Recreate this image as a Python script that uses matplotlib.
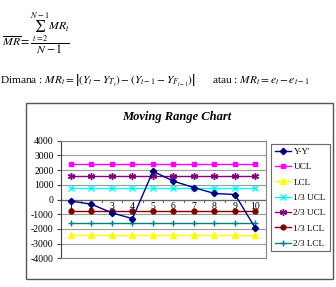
import matplotlib
matplotlib.use("Agg")
import matplotlib.pyplot as plt
from matplotlib.patches import Rectangle

plt.rcParams['font.family'] = ['Liberation Serif', 'DejaVu Serif']
plt.rcParams['mathtext.fontset'] = 'stix'

categories = [1, 2, 3, 4, 5, 6, 7, 8, 9, 10]
y_diff = [-110, -320, -910, -1300, 1920, 1250, 810, 410, 340, -1960]
ucl = [2430] * 10
lcl = [-2430] * 10
ucl_1_3 = [810] * 10
ucl_2_3 = [1620] * 10
lcl_1_3 = [-810] * 10
lcl_2_3 = [-1620] * 10
y_ticks = [-4000, -3000, -2000, -1000, 0, 1000, 2000, 3000, 4000]

W, H = 336, 287
fig = plt.figure(figsize=(W / 100, H / 100), dpi=100)

# Formula text
fig.text(2 / W, 1 - 33 / H,
         r"$\overline{MR} = \dfrac{\sum_{t=2}^{N-1} MR_t}{N-1}$",
         fontsize=8.5, va='center', ha='left')
fig.text(0 / W, 1 - 80 / H,
         r"Dimana : $MR_t = \left|\left(Y_t - Y_{T_t}\right) - \left(Y_{t-1} - Y_{F_{t-1}}\right)\right|$"
         r"      atau : $MR_t = e_t - e_{t-1}$",
         fontsize=8.2, va='center', ha='left')

# Outer chart border
fig.patches.append(Rectangle((26 / W, 1 - 279 / H), (333 - 26) / W, (279 - 103) / H,
                             transform=fig.transFigure, fill=False,
                             edgecolor='#555555', linewidth=1.0))

ax = fig.add_axes([60.7 / W, 1 - 258.3 / H, (265.7 - 60.7) / W, (258.3 - 140.7) / H])

series = [
    ("Y-Y'", y_diff, '#000080', 'D', 3.2, 10),
    ("UCL", ucl, '#FF00FF', 's', 3.5, 5),
    ("LCL", lcl, '#FFFF00', '^', 4, 5),
    ("1/3 UCL", ucl_1_3, '#00FFFF', 'x', 4, 5),
    ("2/3 UCL", ucl_2_3, '#800080', (6, 2, 0), 5, 5),
    ("1/3 LCL", lcl_1_3, '#800000', 'o', 3.5, 5),
    ("2/3 LCL", lcl_2_3, '#008080', '+', 5, 5),
]
for label, vals, col, mk, ms, z in series:
    ax.plot(categories, vals, color=col, marker=mk, markersize=ms, linewidth=1.0,
            markeredgecolor=col, markerfacecolor=col, label=label, zorder=z,
            markeredgewidth=1.0)

ax.set_xlim(0.5, 10.5)
ax.set_ylim(-4000, 4000)
ax.set_yticks(y_ticks)
ax.set_yticklabels([str(v) for v in y_ticks], fontsize=7)
ax.yaxis.grid(True, color='#999999', linewidth=0.8)
ax.set_axisbelow(True)
ax.tick_params(axis='y', length=3, width=0.8, color='#444444', pad=2)

# category axis at zero
ax.axhline(0, color='#666666', linewidth=0.9, zorder=2)
ax.set_xticks([])
for c in categories:
    ax.text(c, -150, str(c), ha='center', va='top', fontsize=7, zorder=1)
for b in [x + 0.5 for x in categories[:-1]]:
    ax.plot([b, b], [0, -150], color='#666666', linewidth=0.8, zorder=2)

for s in ax.spines.values():
    s.set_color('#888888')
    s.set_linewidth(0.8)
ax.spines['left'].set_color('#444444')

ax.set_title("Moving Range Chart", fontsize=9, fontweight='bold', fontstyle='italic',
             x=(177 - 60.7) / (265.7 - 60.7), y=1.0, pad=15)

leg = fig.legend(loc='upper left', bbox_to_anchor=(271 / W, 1 - 144 / H),
                 fontsize=6.6, frameon=True, fancybox=False, handlelength=1.8,
                 labelspacing=0.75, borderpad=0.4, handletextpad=0.25,
                 borderaxespad=0)
leg.get_frame().set_edgecolor('#444444')
leg.get_frame().set_linewidth(0.8)

fig.savefig("out.png", dpi=100)
